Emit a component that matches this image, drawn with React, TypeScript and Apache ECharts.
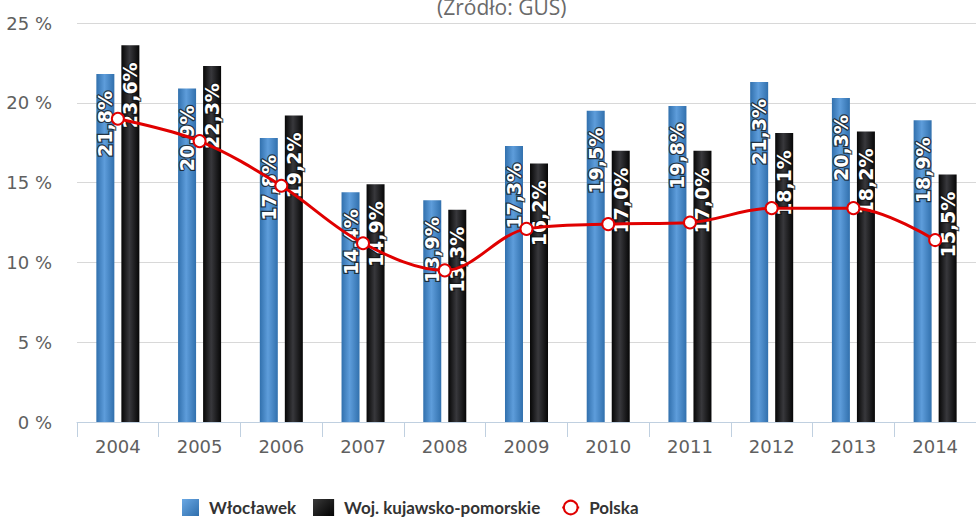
import React, { useEffect, useRef } from "react";
import * as echarts from "echarts";

const years = ["2004", "2005", "2006", "2007", "2008", "2009", "2010", "2011", "2012", "2013", "2014"];
const wloclawek = [21.8, 20.9, 17.8, 14.4, 13.9, 17.3, 19.5, 19.8, 21.3, 20.3, 18.9];
const kujawsko = [23.6, 22.3, 19.2, 14.9, 13.3, 16.2, 17.0, 17.0, 18.1, 18.2, 15.5];
const polska = [19.0, 17.6, 14.8, 11.2, 9.5, 12.1, 12.4, 12.5, 13.4, 13.4, 11.4];
const seriesNames = ["Włocławek", "Woj. kujawsko-pomorskie", "Polska"];
const titleText = "(Źródło: GUS)";

const fmt = (v: number) => v.toFixed(1).replace(".", ",") + "%";

export default function App() {
  const ref = useRef<HTMLDivElement>(null);
  useEffect(() => {
    if (!ref.current) return;
    const chart = echarts.init(ref.current, undefined, { renderer: "svg" });
    const blue = new echarts.graphic.LinearGradient(0, 0, 1, 0, [
      { offset: 0, color: "#3170ad" },
      { offset: 0.45, color: "#5e9ddb" },
      { offset: 1, color: "#3170ad" },
    ]);
    const black = new echarts.graphic.LinearGradient(0, 0, 1, 0, [
      { offset: 0, color: "#060606" },
      { offset: 0.45, color: "#38383c" },
      { offset: 1, color: "#060606" },
    ]);
    const blueIcon = new echarts.graphic.LinearGradient(0, 0, 1, 1, [
      { offset: 0, color: "#6aa8e4" },
      { offset: 1, color: "#2f6eac" },
    ]);
    const blackIcon = new echarts.graphic.LinearGradient(0, 0, 1, 1, [
      { offset: 0, color: "#3a3a3a" },
      { offset: 1, color: "#050505" },
    ]);
    const barLabel = {
      show: true,
      position: "insideTop",
      distance: 17,
      rotate: 90,
      align: "right",
      verticalAlign: "middle",
      color: "#fff",
      fontFamily: "DejaVu Sans",
      fontWeight: "bold",
      fontSize: 19,
      textBorderColor: "rgba(20,20,20,0.75)",
      textBorderWidth: 2.5,
      formatter: (p: any) => fmt(p.value),
    };
    chart.setOption({
      animation: false,
      backgroundColor: "#fff",
      title: {
        text: titleText,
        left: 432,
        top: -9,
        textStyle: { fontFamily: "Open Sans", fontSize: 21, fontWeight: "normal", color: "#6a6a6a" },
      },
      legend: {
        left: 182,
        top: 499,
        padding: 0,
        itemWidth: 17,
        itemHeight: 17,
        itemGap: 21,
        symbolKeepAspect: false,
        textStyle: { fontFamily: "Lato", fontSize: 17, fontWeight: "bold", color: "#333", padding: [0, 0, 0, 5] },
        data: [
          { name: seriesNames[0], icon: "rect", itemStyle: { color: blueIcon, borderWidth: 0 } },
          { name: seriesNames[1], icon: "rect", itemStyle: { color: blackIcon, borderWidth: 0 } },
          { name: seriesNames[2] },
        ],
      },
      graphic: [
        { type: "rect", left: 182, top: 499, z: 100, silent: true, shape: { width: 17, height: 17 }, style: { fill: blueIcon } },
        { type: "rect", left: 313, top: 499, z: 100, silent: true, shape: { width: 17, height: 17 }, style: { fill: blackIcon } },
      ],
      grid: { left: 77, top: 23, width: 904, height: 399 },
      xAxis: {
        type: "category",
        data: years,
        boundaryGap: true,
        axisLine: { lineStyle: { color: "#c0d0e0", width: 1 } },
        axisTick: { show: true, length: 15, lineStyle: { color: "#c0d0e0" } },
        axisLabel: { fontFamily: "DejaVu Sans", fontSize: 18, color: "#606060", margin: 15 },
      },
      yAxis: {
        type: "value",
        min: 0,
        max: 25,
        interval: 5,
        axisLine: { show: false },
        axisTick: { show: false },
        splitLine: { lineStyle: { color: "#d8d8d8", width: 1 } },
        axisLabel: { formatter: "{value} %", fontFamily: "DejaVu Sans", fontSize: 18, color: "#606060", margin: 25 },
      },
      series: [
        {
          name: seriesNames[0],
          type: "bar",
          data: wloclawek,
          barWidth: 18,
          barGap: "39%",
          itemStyle: { color: blue },
          label: barLabel,
        },
        {
          name: seriesNames[1],
          type: "bar",
          data: kujawsko,
          barWidth: 18,
          barGap: "39%",
          itemStyle: { color: black },
          label: barLabel,
        },
        {
          name: seriesNames[2],
          type: "line",
          data: polska,
          smooth: 0.35,
          symbol: "emptyCircle",
          symbolSize: 12,
          lineStyle: { color: "#e00000", width: 3 },
          itemStyle: { color: "#e00000", borderWidth: 3.5 },
          z: 5,
        },
      ],
    });
    return () => chart.dispose();
  }, []);
  return <div ref={ref} style={{ position: "absolute", left: 0, top: 0, width: 976, height: 520 }} />;
}
